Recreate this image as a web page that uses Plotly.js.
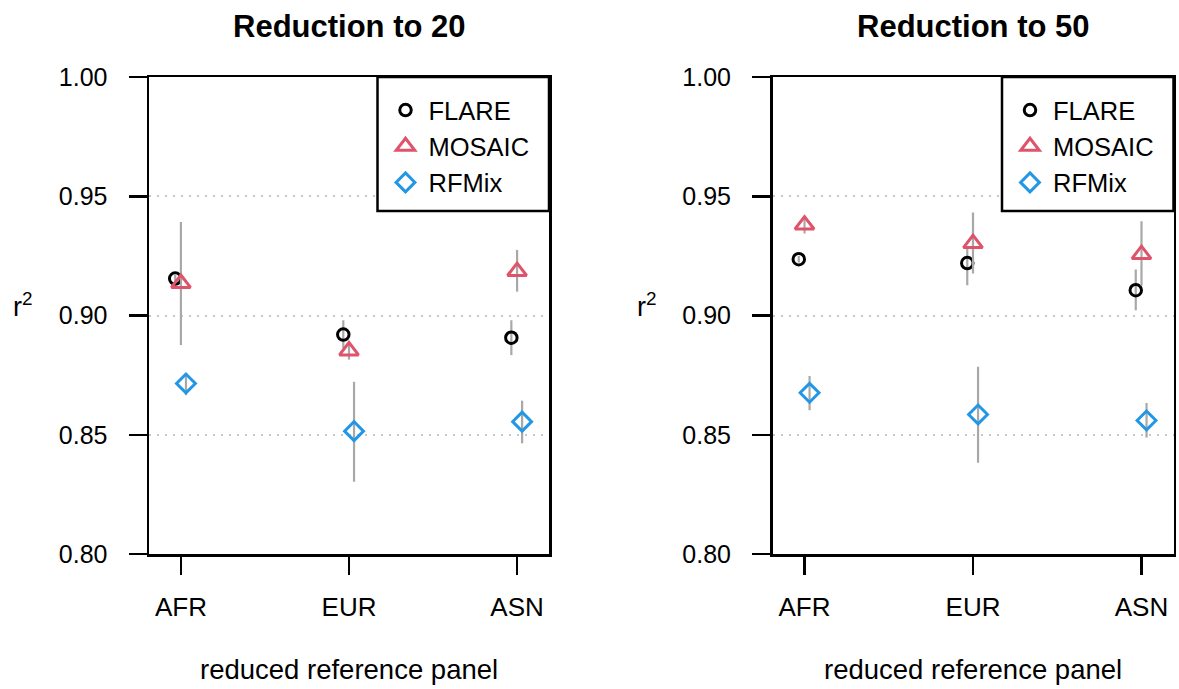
<!DOCTYPE html>
<html>
<head>
<meta charset="utf-8">
<script src="https://cdn.plot.ly/plotly-3.0.1.min.js"></script>
<style>
  html, body { margin: 0; padding: 0; background: #ffffff; }
  #chart { width: 1179px; height: 689px; }
</style>
</head>
<body>
<div id="chart"></div>
<script>
// ---------- data ----------
const categories = ['AFR', 'EUR', 'ASN'];
const methods = ['FLARE', 'MOSAIC', 'RFMix'];
const panelTitles = ['Reduction to 20', 'Reduction to 50'];
const yTickVals = [0.80, 0.85, 0.90, 0.95, 1.00];
const yTickText = ['0.80', '0.85', '0.90', '0.95', '1.00'];

// Reduction to 20
const r20_FLARE     = [0.9155, 0.8920, 0.8907];
const r20_FLARE_lo  = [0.9140, 0.8862, 0.8834];
const r20_FLARE_hi  = [0.9170, 0.8980, 0.8980];
const r20_MOSAIC    = [0.9135, 0.8852, 0.9185];
const r20_MOSAIC_lo = [0.8876, 0.8815, 0.9100];
const r20_MOSAIC_hi = [0.9392, 0.8890, 0.9275];
const r20_RFMix     = [0.8715, 0.8515, 0.8555];
const r20_RFMix_lo  = [0.8666, 0.8303, 0.8464];
const r20_RFMix_hi  = [0.8757, 0.8722, 0.8643];

// Reduction to 50
const r50_FLARE     = [0.9236, 0.9220, 0.9106];
const r50_FLARE_lo  = [0.9222, 0.9127, 0.9022];
const r50_FLARE_hi  = [0.9250, 0.9288, 0.9193];
const r50_MOSAIC    = [0.9380, 0.9302, 0.9256];
const r50_MOSAIC_lo = [0.9344, 0.9176, 0.9125];
const r50_MOSAIC_hi = [0.9413, 0.9432, 0.9395];
const r50_RFMix     = [0.8676, 0.8585, 0.8560];
const r50_RFMix_lo  = [0.8603, 0.8383, 0.8488];
const r50_RFMix_hi  = [0.8746, 0.8785, 0.8633];

// ---------- styling ----------
const W = 1179, H = 689;
const FONT = 'Liberation Sans, Arial, Helvetica, sans-serif';
const styles = {
  FLARE:  { symbol: 'circle-open',      size: 11.5, color: '#000000', dx: -0.034 },
  MOSAIC: { symbol: 'triangle-up-open', size: 16.5, color: '#DF536B', dx: 0.0 },
  RFMix:  { symbol: 'diamond-open',     size: 14.5, color: '#2297E6', dx: 0.030 }
};
const panels = [
  { data: { FLARE: [r20_FLARE, r20_FLARE_lo, r20_FLARE_hi],
            MOSAIC: [r20_MOSAIC, r20_MOSAIC_lo, r20_MOSAIC_hi],
            RFMix: [r20_RFMix, r20_RFMix_lo, r20_RFMix_hi] },
    xa: 'x', ya: 'y', legend: 'legend', px0: 149, px1: 549 },
  { data: { FLARE: [r50_FLARE, r50_FLARE_lo, r50_FLARE_hi],
            MOSAIC: [r50_MOSAIC, r50_MOSAIC_lo, r50_MOSAIC_hi],
            RFMix: [r50_RFMix, r50_RFMix_lo, r50_RFMix_hi] },
    xa: 'x2', ya: 'y2', legend: 'legend2', px0: 772.5, px1: 1173.5 }
];
const pyTop = 77, pyBot = 554;

const traces = [];
panels.forEach((p) => {
  methods.forEach((m) => {
    const [v, lo, hi] = p.data[m];
    const st = styles[m];
    traces.push({
      type: 'scatter', mode: 'markers', name: m,
      x: categories.map((c, i) => i + 1 + st.dx),
      y: v,
      xaxis: p.xa, yaxis: p.ya, legend: p.legend,
      marker: { symbol: st.symbol, size: st.size, color: st.color,
                line: { width: 3, color: st.color } },
      error_y: { type: 'data', symmetric: false,
                 array: v.map((y, i) => hi[i] - y),
                 arrayminus: v.map((y, i) => y - lo[i]),
                 color: '#A8A8A8', thickness: 2.2, width: 0 },
      hoverinfo: 'x+y+name'
    });
  });
});

function xAxis(p) {
  return {
    domain: [p.px0 / W, p.px1 / W],
    range: [0.81, 3.19],
    tickvals: [1, 2, 3], ticktext: categories,
    ticks: 'outside', ticklen: 18, tickwidth: 2.5, tickcolor: '#000',
    ticklabelstandoff: 10,
    showline: true, mirror: true, linewidth: 2.5, linecolor: '#000',
    showgrid: false, zeroline: false, fixedrange: true,
    tickfont: { family: FONT, size: 26, color: '#000' }
  };
}
function yAxis(p, anchor) {
  return {
    domain: [1 - pyBot / H, 1 - pyTop / H],
    anchor: anchor,
    range: [0.80, 1.00],
    tickvals: yTickVals, ticktext: yTickText,
    ticks: 'outside', ticklen: 18, tickwidth: 2.5, tickcolor: '#000',
    ticklabelstandoff: 16,
    showline: true, mirror: true, linewidth: 2.5, linecolor: '#000',
    showgrid: true, gridcolor: '#C8C8C8', gridwidth: 2, griddash: '2px,6px',
    zeroline: false, fixedrange: true,
    tickfont: { family: FONT, size: 25, color: '#000' }
  };
}

const annotations = [];
const shapes = [];
const legendBoxW = 171.5, legendBoxH = 134;
panels.forEach((p, k) => {
  const cx = (p.px0 + p.px1) / 2;
  annotations.push({
    xref: 'paper', yref: 'paper', x: cx / W, y: 1 - 27 / H,
    xanchor: 'center', yanchor: 'middle', showarrow: false,
    text: '<b>' + panelTitles[k] + '</b>',
    font: { family: FONT, size: 31, color: '#000' }
  });
  annotations.push({
    xref: 'paper', yref: 'paper', x: cx / W, y: 1 - 669 / H,
    xanchor: 'center', yanchor: 'middle', showarrow: false,
    text: 'reduced reference panel',
    font: { family: FONT, size: 27.5, color: '#000' }
  });
  annotations.push({
    xref: 'paper', yref: 'paper', x: (p.px0 - 126) / W, y: 1 - 305 / H,
    xanchor: 'center', yanchor: 'middle', showarrow: false,
    text: 'r<sup>2</sup>',
    font: { family: FONT, size: 27, color: '#000' }
  });
  shapes.push({
    type: 'rect', xref: 'paper', yref: 'paper', layer: 'above',
    x0: (p.px1 - legendBoxW) / W, x1: p.px1 / W,
    y0: 1 - (pyTop + legendBoxH) / H, y1: 1 - pyTop / H,
    line: { color: '#000', width: 2.5 }, fillcolor: 'rgba(255,255,255,1)'
  });
});

function legendAt(p) {
  return {
    x: (p.px1 - legendBoxW + 5) / W, xanchor: 'left',
    y: 1 - (pyTop + 10) / H, yanchor: 'top',
    bgcolor: 'rgba(0,0,0,0)', borderwidth: 0,
    itemwidth: 36, itemclick: false, itemdoubleclick: false,
    font: { family: FONT, size: 25.5, color: '#000' },
    tracegroupgap: 0
  };
}

const layout = {
  width: W, height: H,
  margin: { l: 0, r: 0, t: 0, b: 0 },
  paper_bgcolor: '#ffffff', plot_bgcolor: '#ffffff',
  showlegend: true,
  xaxis: xAxis(panels[0]), yaxis: yAxis(panels[0], 'x'),
  xaxis2: xAxis(panels[1]), yaxis2: yAxis(panels[1], 'x2'),
  legend: legendAt(panels[0]), legend2: legendAt(panels[1]),
  annotations: annotations, shapes: shapes,
  font: { family: FONT, size: 25, color: '#000' }
};
layout.xaxis.anchor = 'y';
layout.xaxis2.anchor = 'y2';

Plotly.newPlot('chart', traces, layout, { displayModeBar: false, staticPlot: true });
</script>
</body>
</html>
